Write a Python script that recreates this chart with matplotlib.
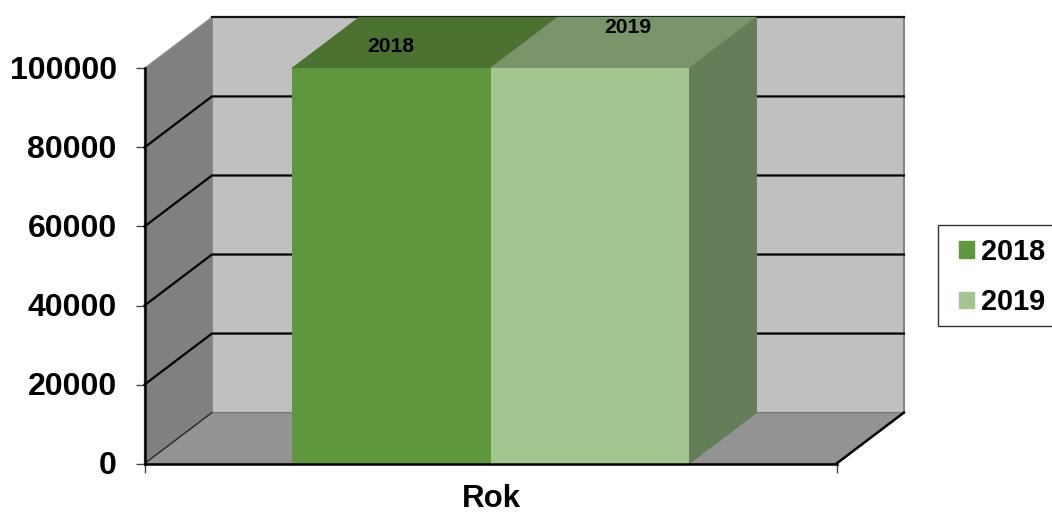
import matplotlib
matplotlib.use("Agg")
import matplotlib.pyplot as plt
from matplotlib.patches import Polygon, Rectangle
from matplotlib.transforms import ScaledTranslation

plt.rcParams['font.family'] = ['Liberation Sans', 'DejaVu Sans']

series = ['2018', '2019']
values = [100000, 100000]
y_ticks = [0, 20000, 40000, 60000, 80000, 100000]
axis_title = 'Rok'

front_colors = ['#5f973f', '#a3c690']
top_colors = ['#4b7230', '#7a956b']
side_color = '#647e5a'

W, H = 1052, 514
fig = plt.figure(figsize=(W / 100, H / 100), dpi=100, facecolor='white')
ax = fig.add_axes([144.5 / W, 1 - 463.6 / H, 692 / W, 395.2 / H])
ax.set_xlim(0, 1)
ax.set_ylim(0, 100000)
ax.patch.set_visible(False)

DX = 67.4 / 692           # depth of the 3D box along x
DY = 51 / 395.2 * 100000  # depth of the 3D box along y
BAR_W = 198.5 / 692
BAR_X0 = 147.5 / 692
TOP = y_ticks[-1]


def poly(pts, fc, ec=None, lw=0.8, z=1):
    ax.add_patch(Polygon(pts, closed=True, facecolor=fc, edgecolor=ec or fc,
                         linewidth=lw, zorder=z, clip_on=False))


# walls and floor
poly([(DX, DY), (1 + DX, DY), (1 + DX, TOP + DY), (DX, TOP + DY)], '#c0c0c0', '#808080', 1.4, 1)
poly([(0, 0), (DX, DY), (DX, TOP + DY), (0, TOP)], '#808080', '#8a8a8a', 1.0, 1)
poly([(0, 0), (1, 0), (1 + DX, DY), (DX, DY)], '#939393', '#7a7a7a', 1.0, 1)

# gridlines on back and side walls
for t in y_ticks[1:-1]:
    ax.plot([0, DX, 1 + DX], [t, t + DY, t + DY], color='black', lw=1.6,
            zorder=2, clip_on=False, solid_joinstyle='miter')
ax.plot([DX, 1 + DX], [TOP + DY, TOP + DY], color='#111111', lw=1.6, zorder=2, clip_on=False)
ax.plot([0, DX], [0, DY], color='#222222', lw=0.9, zorder=2, clip_on=False)
ax.plot([1, 1 + DX], [0, DY], color='black', lw=1.8, zorder=2, clip_on=False)

# bars
lefts = [BAR_X0 + i * BAR_W for i in range(len(values))]
bars = ax.bar(lefts, values, width=BAR_W, align='edge', color=front_colors,
              zorder=5, clip_on=False, label='_nolegend_')
for x, v, c in zip(lefts, values, top_colors):
    poly([(x, v), (x + BAR_W, v), (x + BAR_W + DX, v + DY), (x + DX, v + DY)], c, z=4)
xr = lefts[-1] + BAR_W
poly([(xr, 0), (xr + DX, DY), (xr + DX, values[-1] + DY), (xr, values[-1])], side_color, z=4)

# labels on top faces
ax.text(lefts[0] + BAR_W / 2, values[0] + DY * 0.43, series[0], ha='center', va='center',
        fontsize=15.2, fontweight='bold', color='black', zorder=6)
ax.text(lefts[1] + BAR_W / 2 + DX * 0.57, values[1] + DY * 0.80, series[1], ha='center', va='center',
        fontsize=15.2, fontweight='bold', color='black', zorder=6)

# axes
for s in ['top', 'right']:
    ax.spines[s].set_visible(False)
for s in ['left', 'bottom']:
    ax.spines[s].set_linewidth(1.8)
    ax.spines[s].set_color('black')
    ax.spines[s].set_zorder(7)
ax.set_yticks(y_ticks)
ax.set_yticklabels([str(t) for t in y_ticks], fontsize=23, fontweight='bold')
ax.tick_params(axis='y', length=6.5, width=1, color='#444444', pad=13.5)
for lab in ax.get_yticklabels():
    lab.set_transform(lab.get_transform() + ScaledTranslation(0, 1 / 100, fig.dpi_scale_trans))
ax.set_xticks([0, 1])
ax.set_xticklabels(['', ''])
ax.tick_params(axis='x', length=6.5, width=1, color='#444444')
ax.set_xlabel(axis_title, fontsize=22.5, fontweight='bold', labelpad=4.5, x=0.501)

# legend
fig.add_artist(Rectangle((937.5 / W, 1 - 326 / H), 130 / W, 101 / H, transform=fig.transFigure,
                         facecolor='white', edgecolor='#333333', linewidth=1))
handles = [Rectangle((0, 0), 1, 1, color=c) for c in front_colors]
leg = fig.legend(handles, series, loc='upper left', bbox_to_anchor=(947 / W, 1 - 225.5 / H),
                 frameon=False, prop={'size': 20.8, 'weight': 'bold'},
                 handlelength=0.5, handleheight=0.5, handletextpad=0.27,
                 labelspacing=0.78, borderpad=0.42, borderaxespad=0)
leg.set_zorder(10)

fig.savefig('out.png', dpi=100)
